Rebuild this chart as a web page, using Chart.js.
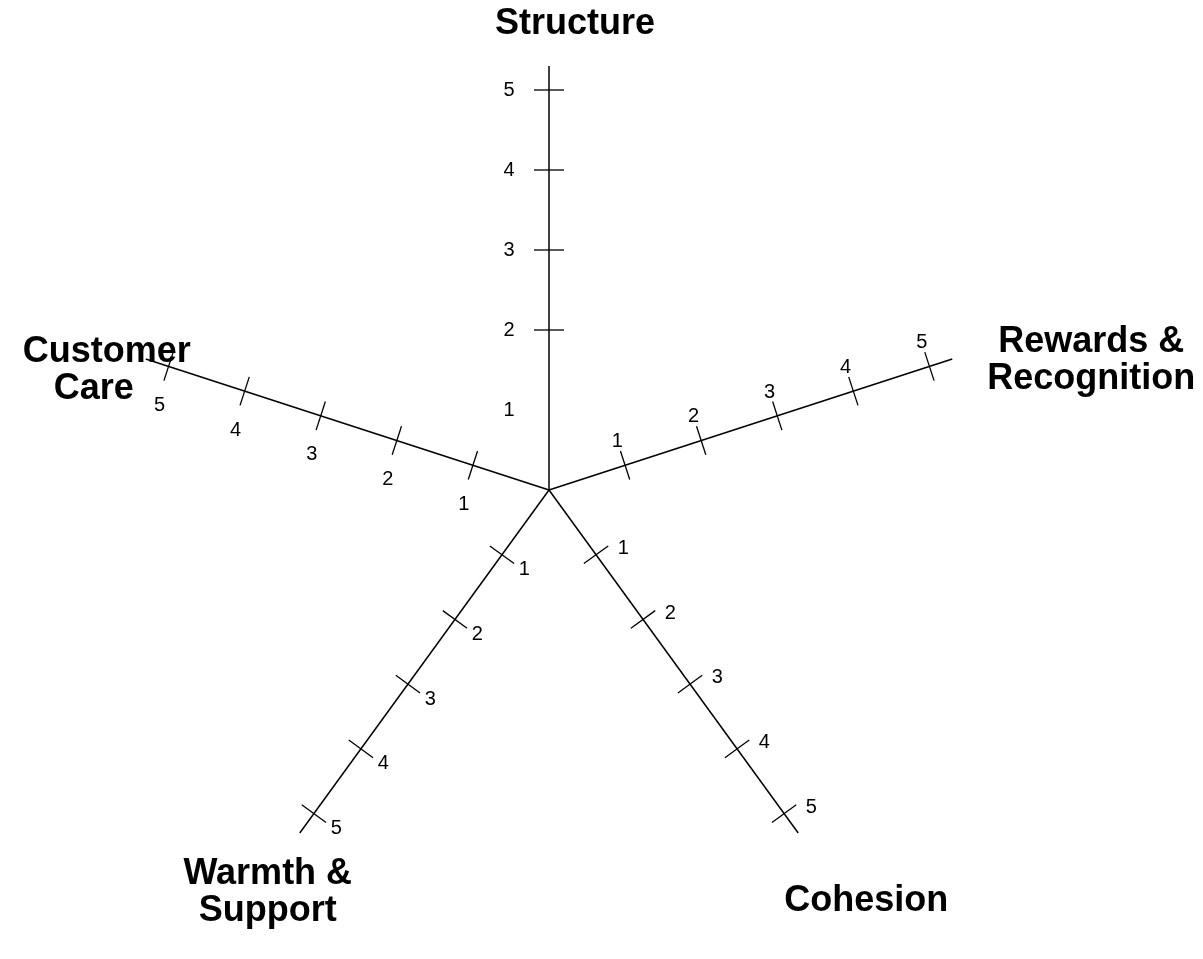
<!DOCTYPE html>
<html>
<head>
<meta charset="utf-8">
<script src="https://cdn.jsdelivr.net/npm/chart.js@4"></script>
<style>
  html, body { margin: 0; padding: 0; background: #fff; }
  #wrap { width: 1203px; height: 959px; position: relative; }
</style>
</head>
<body>
<div id="wrap"><canvas id="climateChart"></canvas></div>
<script>
// axis names (one entry per line of the label)
const dimensions = [['Structure'], ['Rewards &', 'Recognition'], ['Cohesion'], ['Warmth &', 'Support'], ['Customer', 'Care']];
const tickValues = [1, 2, 3, 4, 5];
const scores = []; // the chart shows only the empty scale
const axisMax = 5.3;

const axisTicks = {
  id: 'axisTicks',
  afterDraw(chart, args, opts) {
    const scale = chart.scales.r;
    const ctx = chart.ctx;
    ctx.save();
    ctx.strokeStyle = '#000';
    ctx.fillStyle = '#000';
    ctx.lineWidth = 1.3;
    ctx.textAlign = 'center';
    ctx.textBaseline = 'middle';

    dimensions.forEach((lines, i) => {
      const a = scale.getIndexAngle(i) - Math.PI / 2;
      const px = Math.sin(a), py = -Math.cos(a);
      const la = a + opts.labelRot[i] * Math.PI / 180;
      const lx = Math.cos(la) * opts.labelDist[i], ly = Math.sin(la) * opts.labelDist[i];

      ctx.font = '20px "Liberation Sans", Arial, sans-serif';
      tickValues.forEach(v => {
        const p = scale.getPointPositionForValue(i, v);
        if (!opts.skip.includes(i + ':' + v)) {
          ctx.beginPath();
          ctx.moveTo(p.x - px * opts.half, p.y - py * opts.half);
          ctx.lineTo(p.x + px * opts.half, p.y + py * opts.half);
          ctx.stroke();
        }
        ctx.fillText(String(v), p.x + lx, p.y + ly);
      });

      // axis name
      const end = scale.getPointPositionForValue(i, axisMax);
      const cx = end.x + opts.nameShift[i][0];
      const cy = end.y + opts.nameShift[i][1];
      ctx.font = 'bold 36px "Liberation Sans", Arial, sans-serif';
      const lh = 37;
      lines.forEach((t, k) => {
        const sx = (opts.lineShift[i] || [])[k] || 0;
        ctx.fillText(t, cx + sx, cy + (k - (lines.length - 1) / 2) * lh);
      });
    });
    ctx.restore();
  }
};

new Chart(document.getElementById('climateChart'), {
  type: 'radar',
  data: {
    labels: dimensions,
    datasets: [{ data: scores, borderWidth: 0, pointRadius: 0 }]
  },
  options: {
    responsive: true,
    maintainAspectRatio: false,
    animation: false,
    layout: { padding: { left: 0, right: 105, top: 66, bottom: 45 } },
    plugins: {
      legend: { display: false },
      tooltip: { enabled: false },
      axisTicks: {
        half: 15,
        skip: ['0:1'],
        labelDist: [40, 25, 28, 27, 40],
        labelRot: [-90, -90, -67, -92, -95],
        nameShift: [[26, -42], [139, 2], [68, 68], [-32, 60], [-39, 12]],
        lineShift: [[0], [0, 0], [0], [0, 0], [0, -13]]
      }
    },
    scales: {
      r: {
        min: 0,
        max: axisMax,
        grid: { display: false },
        angleLines: { display: true, color: '#000', lineWidth: 1.5 },
        ticks: { display: false },
        pointLabels: { display: false }
      }
    }
  },
  plugins: [axisTicks]
});
</script>
</body>
</html>
